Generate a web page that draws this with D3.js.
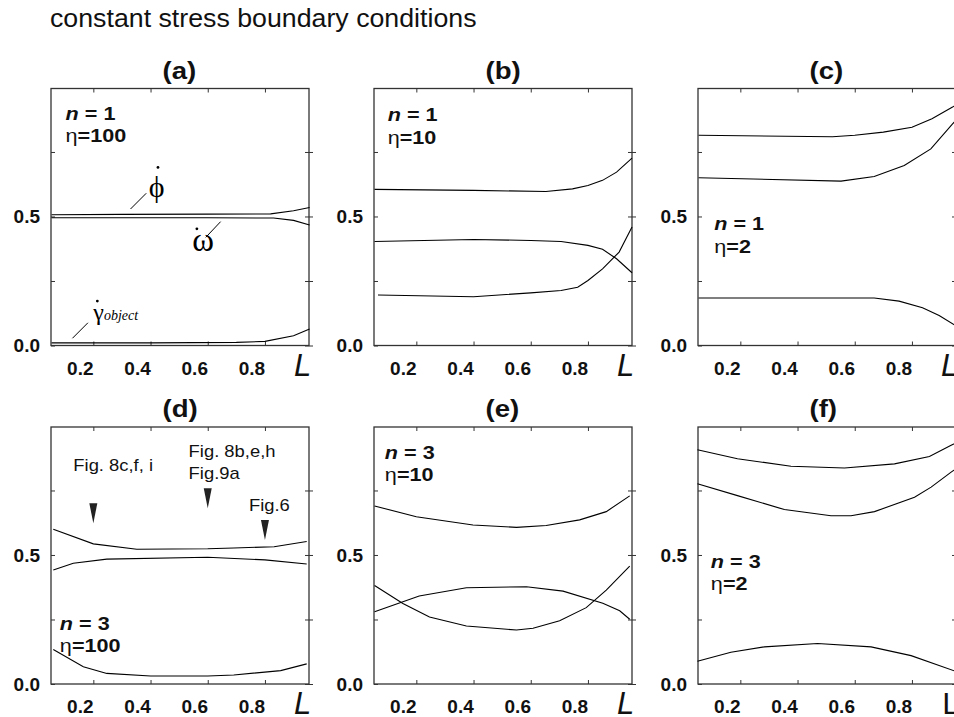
<!DOCTYPE html>
<html><head><meta charset="utf-8">
<script src="https://cdn.jsdelivr.net/npm/d3@7"></script>
<style>
html,body{margin:0;padding:0;background:#fff;}
svg{display:block;font-family:Arial,"Liberation Sans",sans-serif;}
</style></head>
<body>
<script>
// ---------- data ----------
const panelTitles = ["(a)","(b)","(c)","(d)","(e)","(f)"];
const nValues = ["1","1","1","3","3","3"];
const etaValues = ["100","10","2","100","10","2"];
const xTicks = [0.2,0.4,0.6,0.8];
const xTickLabels = ["0.2","0.4","0.6","0.8"];
const yTicks = [0,0.25,0.5,0.75];
const yTickLabels = ["0.0","","0.5",""];

// curves [L, value]
const aPhi   = [[0.054,0.507],[0.3,0.508],[0.6,0.509],[0.82,0.51],[0.9,0.522],[0.956,0.535]];
const aOmega = [[0.054,0.495],[0.3,0.495],[0.6,0.495],[0.83,0.494],[0.9,0.485],[0.956,0.467]];
const aGamma = [[0.054,0.01],[0.4,0.01],[0.7,0.012],[0.8,0.016],[0.9,0.038],[0.956,0.064]];

const bPhi   = [[0.054,0.605],[0.4,0.601],[0.653,0.597],[0.746,0.607],[0.8,0.62],[0.851,0.64],[0.9,0.672],[0.954,0.726]];
const bOmega = [[0.054,0.403],[0.4,0.411],[0.6,0.407],[0.706,0.403],[0.8,0.388],[0.851,0.373],[0.9,0.336],[0.954,0.282]];
const bGamma = [[0.066,0.196],[0.4,0.189],[0.6,0.204],[0.706,0.213],[0.764,0.226],[0.8,0.252],[0.851,0.297],[0.909,0.362],[0.954,0.459]];

const cPhi   = [[0.054,0.815],[0.522,0.809],[0.6,0.815],[0.7,0.827],[0.8,0.846],[0.87,0.879],[0.942,0.924],[0.956,0.935]];
const cOmega = [[0.054,0.65],[0.552,0.637],[0.668,0.655],[0.773,0.698],[0.866,0.762],[0.942,0.859],[0.956,0.875]];
const cGamma = [[0.054,0.184],[0.668,0.184],[0.755,0.172],[0.837,0.146],[0.895,0.116],[0.956,0.075]];

const dPhi   = [[0.06,0.6],[0.2,0.543],[0.352,0.522],[0.6,0.524],[0.691,0.527],[0.832,0.532],[0.946,0.552]];
const dOmega = [[0.06,0.442],[0.13,0.468],[0.247,0.484],[0.6,0.491],[0.8,0.481],[0.946,0.465]];
const dGamma = [[0.06,0.134],[0.165,0.067],[0.247,0.041],[0.4,0.031],[0.6,0.031],[0.691,0.035],[0.855,0.052],[0.946,0.078]];

const ePhi   = [[0.054,0.69],[0.2,0.648],[0.398,0.616],[0.55,0.607],[0.654,0.614],[0.771,0.636],[0.864,0.668],[0.946,0.729]];
const eOmega = [[0.054,0.28],[0.21,0.341],[0.375,0.373],[0.585,0.377],[0.713,0.36],[0.852,0.313],[0.911,0.284],[0.946,0.251]];
const eGamma = [[0.054,0.382],[0.153,0.312],[0.246,0.26],[0.375,0.225],[0.55,0.209],[0.608,0.216],[0.701,0.245],[0.794,0.296],[0.864,0.364],[0.946,0.457]];

const fPhi   = [[0.05,0.908],[0.19,0.873],[0.377,0.844],[0.564,0.837],[0.739,0.853],[0.861,0.882],[0.937,0.925],[0.956,0.936]];
const fOmega = [[0.05,0.776],[0.19,0.73],[0.354,0.676],[0.517,0.652],[0.587,0.652],[0.669,0.668],[0.809,0.724],[0.867,0.763],[0.937,0.821],[0.956,0.836]];
const fGamma = [[0.05,0.088],[0.167,0.123],[0.284,0.144],[0.47,0.157],[0.657,0.144],[0.797,0.11],[0.956,0.048]];

const panelSeries = [
  [aPhi,aOmega,aGamma],[bPhi,bOmega,bGamma],[cPhi,cOmega,cGamma],
  [dPhi,dOmega,dGamma],[ePhi,eOmega,eGamma],[fPhi,fOmega,fGamma]
];

// figure markers in panel (d)
const markerL = [0.2,0.6,0.8];
const markerTip = [0.623,0.681,0.558];
const markerTexts = [["Fig. 8c,f, i"],["Fig. 8b,e,h","Fig.9a"],["Fig.6"]];

// ---------- layout ----------
const W = 954, H = 717;
const colLeft = [51, 374, 698];
const rowTop = [88.5, 427];
const pw = 258, ph = 257;
const xDomain = [0.052, 0.954];
const yDomain = [0, 0.996];
// label positions (data units) per panel
const nLabelPos = [[0.103,0.874],[0.1,0.869],[0.109,0.446],[0.083,0.21],[0.09,0.872],[0.097,0.45]];
const etaGap = 0.087;
const markerTextPos = [[0.13,0.827],[0.533,0.879],[0.744,0.671]];

const svg = d3.select("body").append("svg").attr("width",W).attr("height",H);

function stext(g, x, y, sx, str){
  return g.append("text").attr("transform",`translate(${x},${y}) scale(${sx},1)`).text(str);
}

// title
stext(svg, 50, 27, 1.07, "constant stress boundary conditions")
  .attr("font-size",25).attr("fill","#111");

const frameColor = "#333";
const serif = "'Liberation Serif','DejaVu Serif',serif";

panelTitles.forEach((title, i) => {
  const col = i % 3, row = Math.floor(i / 3);
  const x0 = colLeft[col], y0 = rowTop[row];
  const x = d3.scaleLinear().domain(xDomain).range([x0, x0 + pw]);
  const y = d3.scaleLinear().domain(yDomain).range([y0 + ph, y0]);
  const g = svg.append("g");

  // frame
  g.append("rect").attr("x",x0).attr("y",y0).attr("width",pw).attr("height",ph)
    .attr("fill","none").attr("stroke",frameColor).attr("stroke-width",1.3);

  // axes with inward ticks
  const xb = g.append("g").attr("transform",`translate(0,${y0+ph})`)
    .call(d3.axisBottom(x).tickValues(xTicks).tickSize(-4).tickFormat(""));
  const xt = g.append("g").attr("transform",`translate(0,${y0})`)
    .call(d3.axisTop(x).tickValues(xTicks).tickSize(-4).tickFormat(""));
  const yl = g.append("g").attr("transform",`translate(${x0},0)`)
    .call(d3.axisLeft(y).tickValues(yTicks).tickSize(-4).tickFormat(""));
  const yr = g.append("g").attr("transform",`translate(${x0+pw},0)`)
    .call(d3.axisRight(y).tickValues(yTicks).tickSize(4).tickFormat(""));
  yr.selectAll(".tick line").attr("x1",-4);
  [xb,xt,yl,yr].forEach(a => {
    a.select(".domain").remove();
    a.selectAll(".tick line").attr("stroke",frameColor).attr("stroke-width",1);
  });

  // tick labels
  xTicks.forEach((t, k) => {
    g.append("text").attr("x", x(t) - 13).attr("y", y0 + ph + 29)
      .attr("text-anchor","middle").attr("font-size",19).attr("font-weight","bold")
      .attr("fill","#111").text(xTickLabels[k]);
  });
  yTicks.forEach((t, k) => {
    if (!yTickLabels[k]) return;
    g.append("text").attr("x", x0 - 11).attr("y", y(t)).attr("dy","0.36em")
      .attr("text-anchor","end").attr("font-size",19).attr("font-weight","bold")
      .attr("fill","#111").text(yTickLabels[k]);
  });

  // L axis label
  const Lt = g.append("text").attr("x", x0 + pw - 15).attr("y", y0 + ph + 30)
    .attr("font-size",31).attr("fill","#111").text("L");
  if (i === 5) Lt.attr("x", x0 + pw - 14).attr("font-weight","normal")
    .attr("font-family","'DejaVu Sans',sans-serif").attr("font-size",29);
  else Lt.attr("font-style","italic");

  // panel title
  stext(g, x0 + pw/2 - 17.5, y0 - 10, 1.2, title)
    .attr("font-size",23).attr("font-weight","bold").attr("fill","#111");

  // curves
  const line = d3.line().x(d => x(d[0])).y(d => y(d[1]));
  g.selectAll("path.curve").data(panelSeries[i]).enter().append("path")
    .attr("class","curve").attr("d", line)
    .attr("fill","none").attr("stroke","#000").attr("stroke-width",1.1);

  // n / eta labels
  const [lx, ly] = nLabelPos[i];
  const nt = stext(g, x(lx), y(ly), 1.2, "").attr("font-size",18).attr("font-weight","bold").attr("fill","#111");
  nt.append("tspan").attr("font-style","italic").text("n");
  nt.append("tspan").text(" = " + nValues[i]);
  const et = stext(g, x(lx), y(ly - etaGap), 1.2, "").attr("font-size",18).attr("fill","#111");
  et.append("tspan").attr("font-weight","normal").text("η");
  et.append("tspan").attr("font-weight","bold").text("=" + etaValues[i]);

  if (i === 0) {
    const ln = (p, q) => g.append("line").attr("x1",x(p[0])).attr("y1",y(p[1]))
      .attr("x2",x(q[0])).attr("y2",y(q[1])).attr("stroke","#000").attr("stroke-width",1);
    const dot = (p) => g.append("circle").attr("cx",x(p[0])).attr("cy",y(p[1])).attr("r",1.4).attr("fill","#000");
    // phi
    ln([0.33,0.529],[0.385,0.59]);
    g.append("text").attr("x",x(0.421)).attr("y",y(0.574)).attr("text-anchor","middle")
      .attr("font-family",serif).attr("font-size",30).text("ϕ");
    dot([0.426,0.69]);
    // omega
    ln([0.593,0.419],[0.645,0.48]);
    g.append("text").attr("x",x(0.584)).attr("y",y(0.366)).attr("text-anchor","middle")
      .attr("font-family",serif).attr("font-size",33).text("ω");
    dot([0.562,0.452]);
    // gamma
    ln([0.127,0.028],[0.181,0.088]);
    const gt = g.append("text").attr("x",x(0.2)).attr("y",y(0.1))
      .attr("font-family",serif).attr("font-size",24);
    gt.append("tspan").text("γ");
    gt.append("tspan").attr("font-style","italic").attr("font-size",14).text("object");
    dot([0.214,0.172]);
  }

  if (i === 3) {
    const tri = d3.range(markerL.length).map(k => [markerL[k], markerTip[k]]);
    g.selectAll("path.marker").data(tri).enter().append("path").attr("class","marker")
      .attr("d", d => {
        const cx = x(d[0]), ty = y(d[1]);
        return `M${cx-4},${ty-20}L${cx+4},${ty-20}L${cx},${ty}Z`;
      }).attr("fill","#222");
    markerTexts.forEach((lines, k) => {
      lines.forEach((s, j) => {
        stext(g, x(markerTextPos[k][0]), y(markerTextPos[k][1]) + j*21.5, 1.15, s)
          .attr("font-size",16).attr("fill","#111");
      });
    });
  }
});
</script>
</body></html>
